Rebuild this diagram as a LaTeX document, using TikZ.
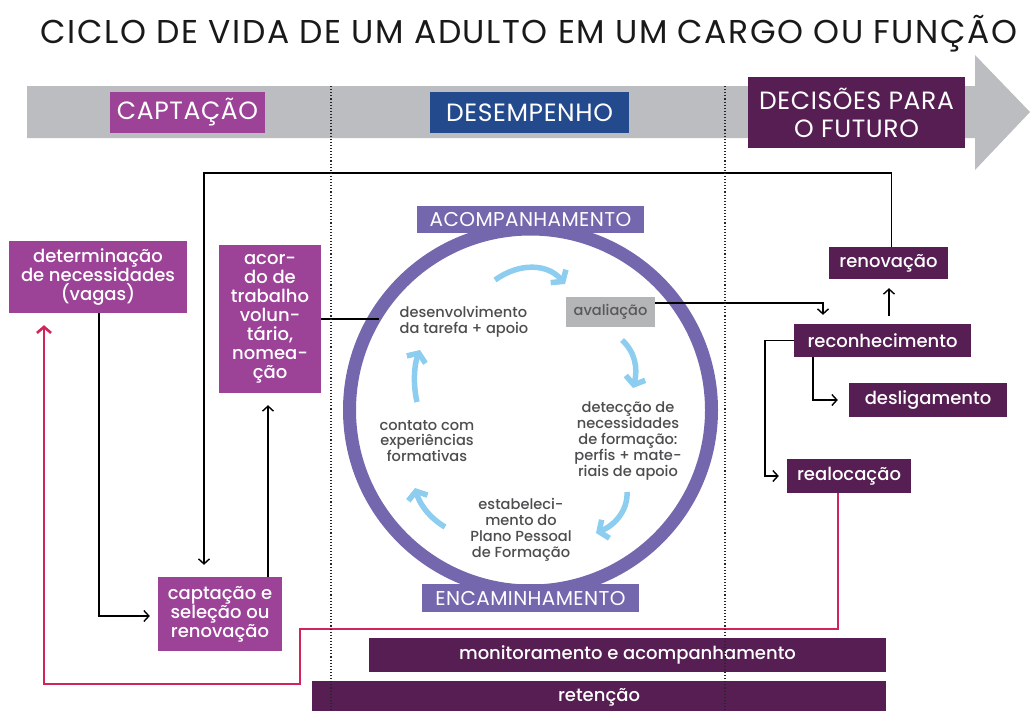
\documentclass[tikz,border=0pt]{standalone}
\usepackage{fontspec}
\setmainfont{Poppins}
\newfontfamily\medf{Poppins Medium}
\usetikzlibrary{arrows.meta}
\definecolor{mag}{HTML}{9C4398}
\definecolor{dpurp}{HTML}{561E52}
\definecolor{dblue}{HTML}{244A8E}
\definecolor{lav}{HTML}{7467AE}
\definecolor{lblue}{HTML}{8DCDF0}
\definecolor{bgray}{HTML}{BCBDC0}
\definecolor{pinkr}{HTML}{D1245A}
\definecolor{agray}{HTML}{B4B5B7}
\definecolor{tgray}{HTML}{4D4D4F}
\begin{document}
\begin{tikzpicture}[x=1pt,y=-1pt,
  box/.style={fill=#1, text=white, inner sep=0pt, align=center},
  boxtxt/.style={font=\medf\fontsize{18}{19}\selectfont},
  headtxt/.style={font=\addfontfeature{LetterSpace=2.5}\fontsize{25}{28}\selectfont},
  circtxt/.style={text=tgray, align=center, inner sep=0pt, font=\medf\fontsize{14.6}{15.9}\selectfont},
  conn/.style={draw=black, line width=1.4pt, -{Straight Barb[length=5pt,width=11pt]}},
  pinkconn/.style={draw=pinkr, line width=2.6pt, -{Straight Barb[length=6pt,width=14pt]}},
  bluearr/.style={draw=lblue, line width=5.5pt, -{Straight Barb[length=7pt,width=20pt]}},
  sep/.style={draw=black!85, line width=1.1pt, dotted},
]
\useasboundingbox (0,0) rectangle (1030,710);
% title
\node[font=\addfontfeature{LetterSpace=4.6}\fontsize{33}{36}\selectfont, text=black!90] (title) at (529,34) {CICLO DE VIDA DE UM ADULTO EM UM CARGO OU FUNÇÃO};
% banner arrow
\fill[bgray] (27,86) -- (975,86) -- (975,55) -- (1030,112) -- (975,170) -- (975,138) -- (27,138) -- cycle;
\node[box=mag, headtxt, minimum width=155pt, minimum height=41pt] (hcap) at (187.5,112.5) {CAPTAÇÃO};
\node[box=dblue, headtxt, minimum width=199pt, minimum height=41pt] (hdes) at (529.5,112.5) {DESEMPENHO};
\node[box=dpurp, headtxt, minimum width=217pt, minimum height=71pt] (hdec) at (856.5,112.5) {DECISÕES PARA\\O FUTURO};
% left boxes
\node[box=mag, boxtxt, minimum width=178pt, minimum height=72pt] (det) at (98,277) {determinação\\de necessidades\\(vagas)};
\node[box=mag, boxtxt, minimum width=102pt, minimum height=148pt] (acordo) at (270,319) {acor-\\do de\\trabalho\\volun-\\tário,\\nomea-\\ção};
\node[box=mag, boxtxt, minimum width=124pt, minimum height=74pt] (capt) at (220,614) {captação e\\seleção ou\\renovação};
% ring
\node[draw=lav, line width=13pt, circle, minimum size=362pt, inner sep=0pt] (ring) at (530.5,410) {};
\node[box=lav, font=\addfontfeature{LetterSpace=2}\fontsize{20}{22}\selectfont, minimum width=227pt, minimum height=27pt] (acomp) at (530.5,219.5) {ACOMPANHAMENTO};
\node[box=lav, font=\addfontfeature{LetterSpace=2}\fontsize{20}{22}\selectfont, minimum width=217pt, minimum height=28pt] (encam) at (530.5,598) {ENCAMINHAMENTO};
% inner texts
\node[circtxt, align=left] (dev) at (464,322) {desenvolvimento\\da tarefa + apoio};
\node[fill=agray, text=black!65, inner sep=0pt, minimum width=89pt, minimum height=30pt, font=\medf\fontsize{14.6}{15.9}\selectfont] (aval) at (610.5,312) {avaliação};
\node[circtxt] (detec) at (628,441) {detecção de\\necessidades\\de formação:\\perfis + mate-\\riais de apoio};
\node[circtxt] (contato) at (427,441) {contato com\\experiências\\formativas};
\node[circtxt] (estab) at (521,530) {estabeleci-\\mento do\\Plano Pessoal\\de Formação};
% blue arrows
\draw[bluearr] (495,280) .. controls (520,262) and (548,264) .. (565,284);
\draw[bluearr] (622,340) .. controls (635,352) and (638,368) .. (633,388);
\draw[bluearr] (627,492) .. controls (628,510) and (615,525) .. (596,533);
\draw[bluearr] (445,527) .. controls (430,518) and (420,505) .. (415,488);
\draw[bluearr] (417,402) .. controls (413,385) and (414,365) .. (420,350);
% right boxes
\node[box=dpurp, boxtxt, minimum width=119pt, minimum height=32pt] (renov) at (888.5,263) {renovação};
\node[box=dpurp, boxtxt, minimum width=177pt, minimum height=33pt] (recon) at (882.5,340.5) {reconhecimento};
\node[box=dpurp, boxtxt, minimum width=158pt, minimum height=34pt] (desl) at (928,400) {desligamento};
\node[box=dpurp, boxtxt, minimum width=124pt, minimum height=34pt] (realoc) at (849,476) {realocação};
% bottom bars
\node[box=dpurp, boxtxt, minimum width=517pt, minimum height=34pt] (monit) at (627.5,655) {monitoramento e acompanhamento};
\fill[dpurp] (312,681) rectangle (886,715);
\node[text=white, boxtxt, inner sep=0pt] (ret) at (599,697) {retenção};
% connectors
\coordinate (tl) at (204,173);
\draw[conn, shorten >=12pt] ([xshift=3pt]renov.north) |- (tl) -- ([xshift=-16pt]capt.north);
\draw[conn, shorten >=8pt] ([xshift=1pt]det.south) |- ([yshift=-2pt]capt.west);
\draw[conn, shorten >=12pt] ([xshift=48pt]capt.north) -- ([xshift=48pt]capt.north |- acordo.south);
\coordinate (ringW) at (379,319);
\draw[line width=1.4pt] (acordo.east) -- (ringW);
\draw[conn, shorten >=9pt] ([yshift=9pt]aval.east) -| ([xshift=-59.5pt]recon.north);
\draw[conn, shorten <=8pt, shorten >=9pt] ([xshift=6.5pt]recon.north) -- ([xshift=6.5pt]recon.north |- renov.south);
\draw[conn, shorten >=11pt] ([xshift=-69.5pt]recon.south) |- (desl.west);
\draw[conn, shorten >=8pt] (recon.west) -- ++(-29,0) |- (realoc.west);
\coordinate (pk1) at (300,629);
\coordinate (pk2) at (44,684);
\draw[pinkconn, shorten >=12pt] ([xshift=-11pt]realoc.south) |- (pk1) |- (pk2) -- ([xshift=-54pt]det.south);
% dotted separators
\coordinate (s1t) at (331,86); \coordinate (s1b) at (331,710);
\coordinate (s2t) at (725,86); \coordinate (s2b) at (725,710);
\draw[sep] (s1t) -- (s1b);
\draw[sep] (s2t) -- (s2b);
\end{tikzpicture}
\end{document}
